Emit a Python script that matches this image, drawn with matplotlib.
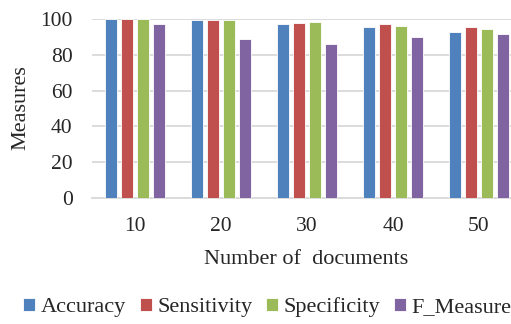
import matplotlib
matplotlib.use("Agg")
import matplotlib.pyplot as plt
import numpy as np

plt.rcParams['font.family'] = ['Liberation Serif', 'DejaVu Serif']

docs = ['10', '20', '30', '40', '50']
accuracy = [100, 99.4, 97.2, 95.7, 92.6]
sensitivity = [100, 99.6, 98.1, 97.0, 95.5]
specificity = [99.8, 99.3, 98.5, 96.1, 94.2]
f_measure = [97.2, 88.8, 85.8, 89.8, 91.8]

series = [('Accuracy', accuracy, '#4F81BD'),
          ('Sensitivity', sensitivity, '#C0504D'),
          ('Specificity', specificity, '#9BBB59'),
          ('F_Measure', f_measure, '#8064A2')]

txt = '#262626'

fig = plt.figure(figsize=(5.11, 3.24), dpi=100)
# plot area runs a little past the right edge of the figure
ax = fig.add_axes([0.180, 0.390, 0.8415, 0.551])

x = np.arange(len(docs))
step = 0.183
w = 0.14
for i, (name, vals, col) in enumerate(series):
    ax.bar(x + (i - 1.5) * step, vals, w, color=col, label=name,
           edgecolor='#ffffff', linewidth=0.6, zorder=3)

ax.set_xlim(-0.5, len(docs) - 0.5)
ax.set_ylim(0, 100)
ax.set_yticks(range(0, 101, 20))
ax.set_xticks(x)
ax.set_xticklabels(docs)
ax.grid(axis='y', color='#D9D9D9', linewidth=1.3, zorder=0)
for s in ['top', 'right', 'left']:
    ax.spines[s].set_visible(False)
ax.spines['bottom'].set_color('#D9D9D9')
ax.spines['bottom'].set_linewidth(1.3)
ax.tick_params(length=0, labelsize=15.5, colors=txt, pad=14)

fig.text(306.5 / 511, 1 - 260 / 324, 'Number of  documents', fontsize=16,
         color=txt, ha='center', va='center')
fig.text(21 / 511, 1 - 108 / 324, 'Measures', fontsize=16, color=txt,
         rotation=90, ha='center', va='center')

fig.legend(loc='center', bbox_to_anchor=(0.523, 0.052), ncol=4, frameon=False,
           fontsize=16, handlelength=0.55, handleheight=0.55, handletextpad=0.25,
           columnspacing=0.6, labelcolor=txt, borderpad=0)

fig.savefig('out.png', dpi=100)
